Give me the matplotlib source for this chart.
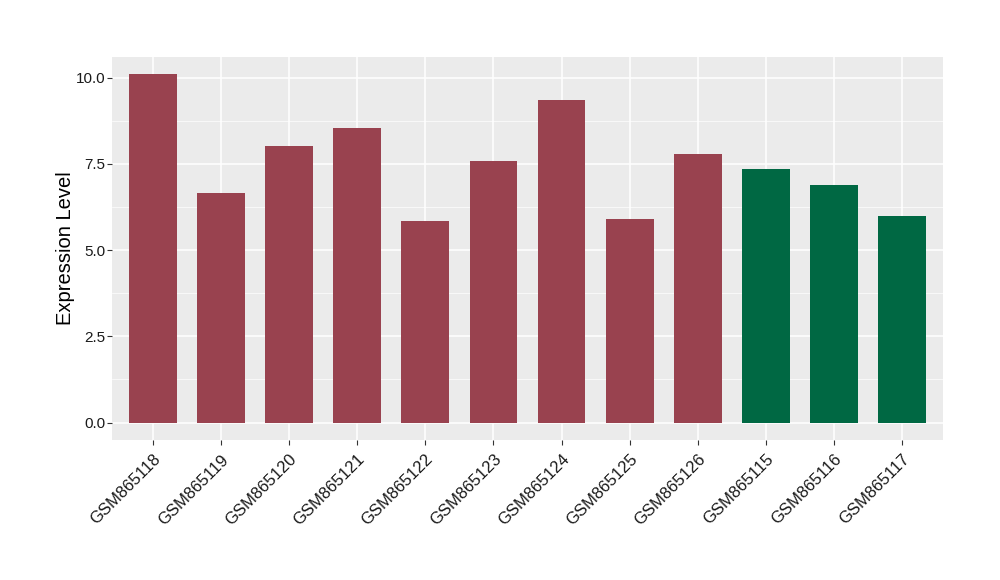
import matplotlib
matplotlib.use("Agg")
import matplotlib.pyplot as plt
from matplotlib.ticker import MultipleLocator

plt.rcParams['font.family'] = ['Liberation Sans', 'DejaVu Sans']

samples = ["GSM865118", "GSM865119", "GSM865120", "GSM865121", "GSM865122", "GSM865123",
           "GSM865124", "GSM865125", "GSM865126", "GSM865115", "GSM865116", "GSM865117"]
values = [10.09, 6.65, 8.03, 8.53, 5.84, 7.57, 9.34, 5.90, 7.77, 7.34, 6.88, 5.98]
groups = ["A"] * 9 + ["B"] * 3
group_colors = {"A": "#99424F", "B": "#006843"}

fig = plt.figure(figsize=(10, 5.8), dpi=100)
ax = fig.add_axes([0.112, 0.2414, 0.831, 0.6603])
ax.set_facecolor("#EBEBEB")
x = list(range(len(samples)))
ax.bar(x, values, width=0.7, color=[group_colors[g] for g in groups], zorder=3)

ax.set_xlim(-0.6, len(samples) - 0.4)
ymax = max(values)
ax.set_ylim(-0.05 * ymax, ymax * 1.05)
ax.yaxis.set_major_locator(MultipleLocator(2.5))
ax.yaxis.set_minor_locator(MultipleLocator(1.25))
ax.yaxis.set_major_formatter(matplotlib.ticker.FormatStrFormatter('%.1f'))
ax.grid(which='major', color='white', linewidth=1.1, zorder=0)
ax.grid(which='minor', axis='y', color='white', linewidth=0.5, zorder=0)
ax.set_axisbelow(True)
ax.set_xticks(x)
ax.set_xticklabels(samples, rotation=45, ha='right', rotation_mode='anchor', fontsize=12, color='#1A1A1A')
ax.tick_params(axis='x', pad=5)
ax.tick_params(axis='y', labelsize=11, labelcolor='#1A1A1A', pad=1.5)
ax.tick_params(which='major', length=3.5, color='#333333')
ax.tick_params(which='minor', length=0)
for s in ax.spines.values():
    s.set_visible(False)
ax.set_ylabel("Expression Level", fontsize=14.5, labelpad=0)

fig.savefig("out.png", dpi=100)
